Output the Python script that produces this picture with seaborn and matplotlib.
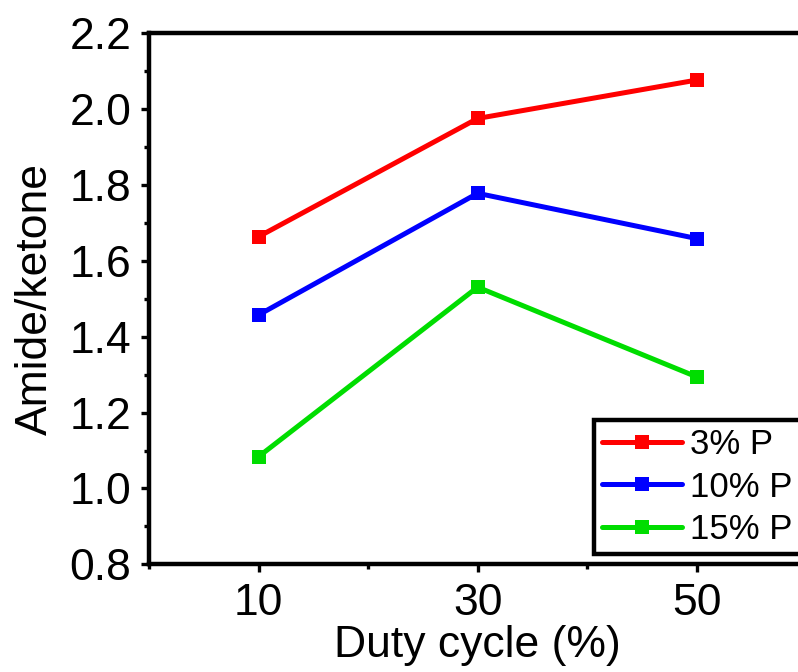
import pandas as pd
import seaborn as sns
import matplotlib.pyplot as plt
from matplotlib.ticker import MultipleLocator

duty_cycle = [10, 30, 50]
p3 = [1.663, 1.974, 2.075]
p10 = [1.457, 1.777, 1.658]
p15 = [1.084, 1.530, 1.294]
series_names = ["3% P", "10% P", "15% P"]
colors = {"3% P": "#FF0000", "10% P": "#0000FF", "15% P": "#00DD00"}

df = pd.DataFrame({
    "duty": duty_cycle * 3,
    "ratio": p3 + p10 + p15,
    "series": [s for s in series_names for _ in duty_cycle],
})

sns.set_style("ticks", rc={"text.color": "black", "axes.labelcolor": "black",
                           "xtick.color": "black", "ytick.color": "black"})
plt.rcParams["font.family"] = ["Liberation Sans", "DejaVu Sans"]

fig = plt.figure(figsize=(7.98, 6.72), dpi=100)
# right spine sits just outside the picture, as in the reference crop
ax = fig.add_axes([0.187, 0.160, 0.823, 0.7915])

sns.lineplot(data=df, x="duty", y="ratio", hue="series", hue_order=series_names,
             palette=colors, style="series", markers={s: "s" for s in series_names},
             dashes=False, markersize=10.5, markeredgewidth=0, linewidth=3.6,
             legend=False, ax=ax)

ax.set_xlim(0, 60)
ax.set_ylim(0.8, 2.2)
ax.xaxis.set_minor_locator(MultipleLocator(10))
ax.yaxis.set_major_locator(MultipleLocator(0.2))
ax.yaxis.set_minor_locator(MultipleLocator(0.1))
ax.set_xticks([10, 30, 50])
ax.set_xticklabels(["10", "30", "50"])
ax.yaxis.set_major_formatter(plt.FormatStrFormatter("%.1f"))

for sp in ax.spines.values():
    sp.set_linewidth(3.2)
    sp.set_color("black")
ax.tick_params(which="major", direction="out", length=6, width=2.4, labelsize=32, pad=7)
ax.tick_params(which="minor", direction="out", length=3.5, width=2.4)

ax.set_xlabel("Duty cycle (%)", fontsize=32, labelpad=1)
ax.set_ylabel("Amide/ketone", fontsize=32, labelpad=10)

leg = ax.legend(handles=ax.lines[:3], labels=series_names, loc="upper left",
                bbox_to_anchor=(0.677, 0.2713), borderaxespad=0, fontsize=25,
                frameon=True, fancybox=False, edgecolor="black", framealpha=1,
                handlelength=2.3, handletextpad=0.25, labelspacing=0.27,
                borderpad=0.23)
leg.get_frame().set_linewidth(3.2)

plt.savefig("out.png", dpi=100)
